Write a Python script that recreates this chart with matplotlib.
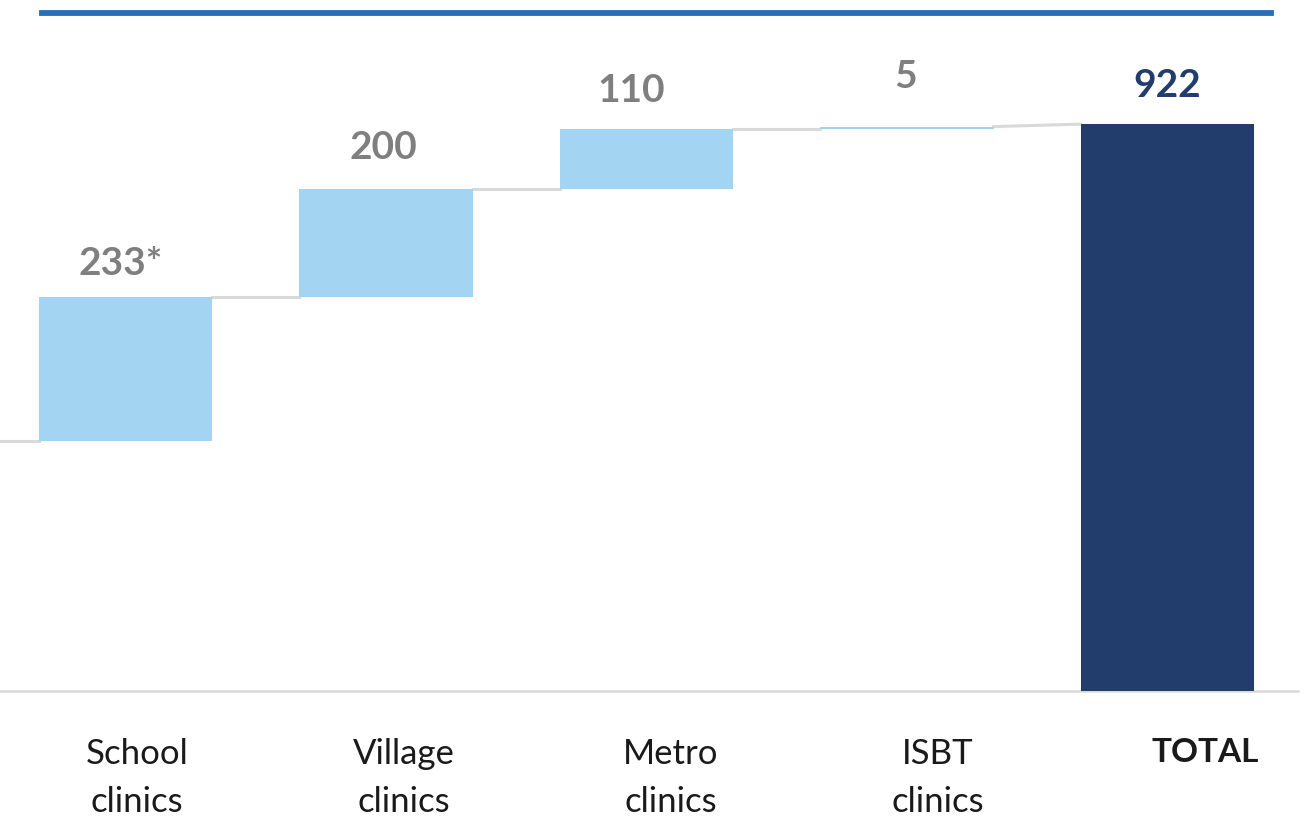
import matplotlib.pyplot as plt
from matplotlib.lines import Line2D

# categories and values shown in the chart
categories = ["School\nclinics", "Village\nclinics", "Metro\nclinics", "ISBT\nclinics", "TOTAL"]
value_labels = ["233*", "200", "110", "5", "922"]
# bar extents as drawn in the source (the steps are not drawn to scale)
bar_bottoms = [407, 641, 817, 914, 0]
bar_tops = [641, 817, 914, 918, 922]

light_blue = "#A3D5F2"
navy = "#223D6C"
grey_line = "#D9D9D9"
grey_text = "#7F7F7F"

plt.rcParams['font.family'] = ['Lato', 'DejaVu Sans']

fig = plt.figure(figsize=(13.04, 8.25), dpi=100)
ax = fig.add_axes([0, 0, 1, 1])
ax.set_xlim(-0.4818, 4.524)
ax.set_ylim(-218.5, 1124)
ax.axis('off')

width = 0.665
n = len(categories)
colors = [light_blue] * (n - 1) + [navy]
heights = [t - b for t, b in zip(bar_tops, bar_bottoms)]
ax.bar(range(n), heights, bottom=bar_bottoms, width=width, color=colors, zorder=3)

# connectors
ax.plot([-0.4818, -width / 2], [bar_bottoms[0]] * 2, color=grey_line, lw=2.2, zorder=2)
for i in range(n - 1):
    y0 = bar_tops[i]
    y1 = bar_tops[i + 1] if i + 1 == n - 1 else bar_bottoms[i + 1]
    ax.plot([i + width / 2, i + 1 - width / 2], [y0, y1], color=grey_line, lw=2.2, zorder=2)

# baseline
ax.plot([-0.4818, 4.5], [0, 0], color=grey_line, lw=1.8, zorder=1)

# value labels (small per-label nudges in pixels to follow the source)
dx_px = [-5, -3, -15, -1, 0]
dy_px = [33, 41, 39, 50, 39]
for i, lab in enumerate(value_labels):
    col = navy if i == n - 1 else grey_text
    ax.annotate(lab, (i, bar_tops[i]), xytext=(dx_px[i] * 0.72, dy_px[i] * 0.72),
                textcoords='offset points', ha='center', va='center',
                fontsize=28, fontweight='bold', color=col)

# category labels
label_dx = [0.044, 0.069, 0.094, 0.119, 0.144]
for i, cat in enumerate(categories):
    bold = cat == "TOTAL"
    ax.text(i + label_dx[i], -77, cat, ha='center', va='top',
            fontsize=24 if bold else 25,
            fontweight='bold' if bold else 'normal', color='#1A1A1A',
            linespacing=1.62)

# decorative rule at the top
fig.add_artist(Line2D([42 / 1304, 1271 / 1304], [1 - 12.8 / 825] * 2,
                      color="#2471B3", lw=4.2, transform=fig.transFigure))

fig.savefig('out.png', dpi=100)
